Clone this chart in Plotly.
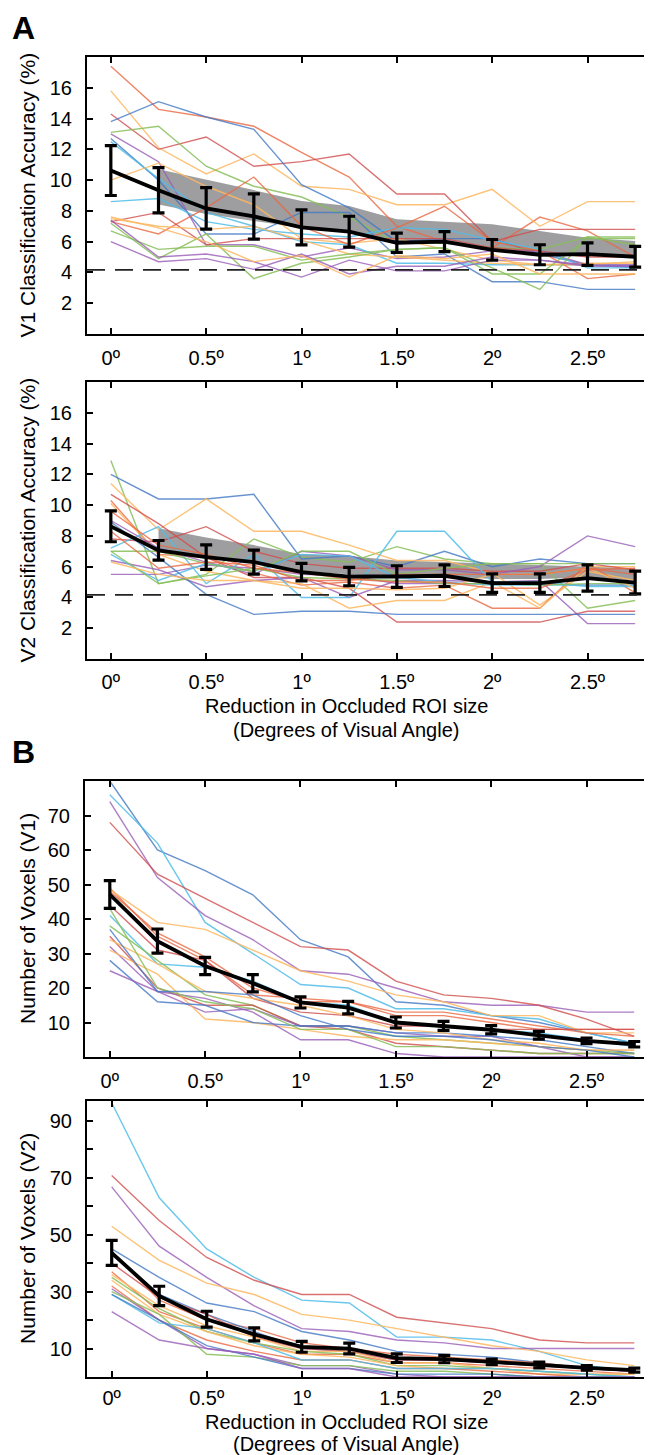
import plotly.graph_objects as go

# ---------------- data ----------------
x_deg = [0, 0.25, 0.5, 0.75, 1.0, 1.25, 1.5, 1.75, 2.0, 2.25, 2.5, 2.75]
x_tick_vals = [0, 0.5, 1, 1.5, 2, 2.5]
x_tick_text = ["0º", "0.5º", "1º", "1.5º", "2º", "2.5º"]
chance_level = 4.17

# Panel A, V1 classification accuracy
v1_acc_subjects = [
    [17.4, 14.6, 14.1, 13.5, 11.8, 10.2, 7.0, 6.0, 5.6, 7.6, 6.7, 5.0],
    [15.8, 12.1, 10.4, 11.7, 9.6, 9.4, 8.4, 8.4, 9.4, 7.0, 8.6, 8.6],
    [14.3, 12.0, 12.8, 10.9, 11.2, 11.7, 9.1, 9.1, 6.0, 6.8, 6.8, 6.8],
    [13.8, 15.1, 14.1, 13.3, 9.7, 8.2, 6.0, 6.2, 6.2, 5.2, 4.5, 4.3],
    [13.1, 13.5, 10.9, 9.6, 8.9, 7.6, 5.9, 5.9, 5.6, 5.5, 6.3, 6.3],
    [13.0, 11.2, 5.8, 5.8, 5.0, 5.6, 4.9, 5.0, 5.4, 5.4, 4.5, 4.5],
    [12.7, 10.0, 6.5, 6.5, 7.9, 7.9, 5.0, 5.2, 3.4, 3.4, 2.9, 2.9],
    [12.5, 10.1, 7.9, 7.0, 6.0, 5.8, 4.6, 4.6, 4.5, 4.5, 4.5, 4.4],
    [10.0, 11.1, 9.6, 8.4, 6.2, 5.9, 6.2, 5.5, 4.8, 4.5, 4.5, 4.7],
    [8.6, 8.8, 7.3, 6.8, 6.5, 6.3, 6.9, 6.8, 6.1, 5.5, 4.3, 4.3],
    [7.3, 6.5, 8.2, 10.2, 7.0, 5.8, 6.9, 8.3, 6.0, 5.4, 3.6, 3.9],
    [7.3, 7.9, 5.8, 6.2, 6.2, 6.2, 6.2, 6.2, 5.6, 5.4, 5.0, 5.0],
    [7.5, 7.0, 6.8, 7.0, 6.1, 5.2, 5.0, 4.8, 4.6, 4.5, 4.6, 4.6],
    [6.7, 5.5, 5.7, 5.7, 4.8, 5.2, 5.5, 5.6, 3.9, 3.9, 6.2, 6.2],
    [7.2, 4.9, 6.5, 3.6, 4.6, 5.0, 5.5, 5.6, 4.3, 2.9, 6.3, 5.8],
    [6.0, 4.7, 4.9, 4.2, 5.2, 3.9, 4.4, 4.4, 5.0, 4.8, 4.5, 4.4],
    [7.4, 5.0, 5.2, 4.7, 3.7, 4.8, 4.1, 4.1, 4.8, 4.8, 4.4, 4.4],
    [7.6, 6.9, 6.0, 4.7, 5.1, 3.7, 5.1, 4.9, 5.2, 3.9, 3.9, 3.9],
]
v1_acc_colors = ["O", "Y", "R", "B", "G", "P", "B", "C", "Y", "C", "O", "R", "Y", "G", "G", "P", "P", "Y"]
v1_acc_mean = [10.62, 9.34, 8.16, 7.64, 6.93, 6.65, 5.93, 6.0, 5.47, 5.15, 5.19, 5.02]
v1_acc_sem = [1.62, 1.47, 1.35, 1.47, 1.14, 1.0, 0.63, 0.65, 0.67, 0.65, 0.73, 0.68]
v1_acc_band_x = [0.25, 0.5, 0.75, 1.0, 1.25, 1.5, 1.75, 2.0, 2.25, 2.5, 2.75]
v1_acc_band_lo = [8.42, 7.8, 7.35, 6.9, 6.6, 5.85, 5.95, 5.4, 5.1, 5.18, 5.0]
v1_acc_band_hi = [10.7, 10.03, 9.35, 8.64, 8.32, 7.45, 7.3, 7.13, 6.69, 6.26, 6.04]

# Panel A, V2 classification accuracy
v2_acc_subjects = [
    [12.9, 4.9, 5.5, 7.8, 6.6, 6.3, 7.3, 6.5, 6.2, 6.2, 3.3, 3.8],
    [12.0, 10.4, 10.4, 10.7, 6.5, 6.7, 6.0, 7.0, 6.0, 6.5, 6.2, 6.2],
    [11.4, 8.4, 10.4, 8.3, 8.3, 7.4, 6.4, 6.4, 5.6, 3.5, 5.7, 5.1],
    [10.7, 8.8, 6.6, 5.3, 5.3, 4.6, 2.4, 2.4, 2.4, 2.4, 3.1, 3.1],
    [10.3, 6.8, 6.6, 5.6, 4.8, 5.0, 4.6, 4.8, 3.3, 3.3, 6.2, 4.3],
    [10.1, 6.8, 5.7, 5.1, 4.9, 3.3, 3.8, 3.8, 5.0, 3.3, 6.0, 6.0],
    [7.8, 7.6, 8.6, 7.0, 6.2, 5.9, 5.9, 5.9, 5.7, 5.7, 6.2, 5.8],
    [9.0, 7.2, 6.3, 5.5, 7.0, 6.7, 5.8, 5.8, 5.5, 6.0, 8.0, 7.3],
    [6.4, 5.8, 4.7, 5.1, 5.3, 4.0, 5.1, 5.1, 5.0, 5.1, 2.3, 2.3],
    [5.5, 5.5, 6.1, 5.9, 5.5, 5.4, 4.9, 4.9, 4.9, 4.9, 4.8, 4.8],
    [7.2, 8.6, 4.9, 6.8, 4.0, 4.0, 8.3, 8.3, 5.0, 5.0, 4.7, 4.7],
    [6.8, 5.1, 6.2, 5.7, 6.8, 6.7, 5.3, 5.0, 4.8, 4.8, 4.8, 4.8],
    [8.9, 6.6, 4.2, 2.9, 3.1, 3.1, 2.9, 2.9, 2.9, 2.9, 2.9, 2.9],
    [7.0, 7.0, 6.2, 5.7, 7.0, 7.0, 5.5, 5.9, 6.2, 6.2, 6.2, 6.2],
    [7.0, 4.9, 5.4, 5.9, 5.3, 5.2, 5.1, 4.9, 4.9, 4.8, 4.9, 4.9],
    [6.3, 5.5, 5.1, 5.1, 4.6, 4.6, 4.5, 4.6, 5.5, 5.5, 5.9, 4.6],
    [8.3, 5.9, 6.3, 6.1, 5.1, 5.1, 5.5, 5.5, 5.5, 5.5, 5.9, 5.5],
    [9.6, 7.4, 6.8, 5.9, 5.6, 5.2, 5.0, 5.0, 4.6, 4.6, 5.8, 5.9],
]
v2_acc_colors = ["G", "B", "Y", "R", "O", "Y", "R", "P", "P", "P", "C", "C", "B", "G", "G", "Y", "O", "O"]
v2_acc_mean = [8.62, 7.06, 6.62, 6.3, 5.65, 5.36, 5.36, 5.41, 4.93, 4.93, 5.26, 4.97]
v2_acc_sem = [1.0, 0.64, 0.8, 0.78, 0.57, 0.6, 0.7, 0.7, 0.6, 0.6, 0.85, 0.74]
v2_acc_band_x = [0.25, 0.5, 0.75, 1.0, 1.25, 1.5, 1.75, 2.0, 2.25, 2.5, 2.75]
v2_acc_band_lo = [7.1, 6.65, 6.3, 5.7, 5.5, 5.4, 5.4, 5.2, 5.2, 5.3, 5.1]
v2_acc_band_hi = [8.5, 7.9, 7.4, 6.8, 6.7, 6.4, 6.3, 6.2, 6.1, 6.0, 5.9]

# Panel B, V1 voxel counts
v1_vox_subjects = [
    [80, 60, 54, 47, 34, 29, 16, 15, 12, 10, 7, 4],
    [76, 62, 39, 30, 21, 20, 14, 14, 12, 11, 7, 4],
    [74, 52, 41, 34, 25, 24, 20, 16, 15, 15, 13, 13],
    [68, 53, 46, 39, 32, 31, 22, 18, 17, 15, 11, 6],
    [49, 35, 28, 18, 17, 16, 12, 12, 10, 8, 8, 8],
    [48.5, 39, 37, 31, 25, 22, 18, 16, 12, 12, 7, 7],
    [48, 36, 29, 20, 16, 16, 13, 13, 11, 9, 7, 6],
    [44, 31, 28, 17, 13, 12, 9, 9, 8, 8, 8, 8],
    [41, 27, 26, 22, 16, 15, 10, 9, 8, 7, 5, 3],
    [38, 28, 18, 15, 9, 9, 6, 5, 4, 3, 2, 1],
    [35, 20, 15, 15, 9, 8, 4, 3, 2, 1, 1, 1],
    [32, 19, 13, 14, 9, 9, 7, 6, 6, 3, 0, 0],
    [31, 24, 11, 10, 8, 6, 5, 5, 4, 3, 2, 2],
    [28, 16, 15, 10, 9, 9, 7, 7, 6, 5, 3, 1],
    [25, 19, 17, 13, 5, 5, 1, 0, 0, 0, 0, 0],
    [34, 27, 19, 17, 15, 12, 8, 7, 5, 4, 2, 2],
    [43, 20, 16, 14, 8, 8, 3, 3, 2, 1, 1, 1],
    [37, 19, 19, 18, 12, 8, 6, 6, 5, 3, 2, 0],
]
v1_vox_colors = ["B", "C", "P", "R", "O", "Y", "O", "R", "C", "G", "R", "P", "Y", "B", "P", "Y", "G", "B"]
v1_vox_mean = [47.1, 33.6, 26.4, 21.4, 15.8, 14.3, 10.0, 9.0, 7.9, 6.3, 4.7, 3.7]
v1_vox_sem = [4.0, 3.5, 2.5, 2.5, 1.6, 1.8, 1.6, 1.3, 1.2, 1.1, 0.8, 0.8]

# Panel B, V2 voxel counts
v2_vox_subjects = [
    [96.4, 63, 45, 35, 27, 26, 14, 14, 13, 9, 4, 2],
    [70.8, 55, 42, 34, 29, 29, 21, 19, 17, 13, 12, 12],
    [66.8, 46, 35, 25, 17, 16, 13, 12, 10, 10, 10, 10],
    [53, 41, 33, 29, 22, 20, 17, 14, 11, 9, 6, 4],
    [45, 35, 26, 23, 16, 13, 9, 8, 7, 5, 3, 2],
    [44, 27, 20, 17, 12, 10, 8, 7, 6, 5, 3, 2],
    [43, 29, 22, 16, 10, 9, 6, 6, 5, 4, 3, 2],
    [40, 28, 22, 14, 10, 9, 6, 6, 5, 4, 3, 2],
    [37, 23, 17, 12, 8, 8, 5, 5, 4, 3, 2, 1],
    [36, 25, 18, 14, 9, 9, 5, 5, 3, 2, 1, 1],
    [35, 24, 16, 12, 9, 8, 4, 4, 3, 2, 1, 0],
    [34, 22, 16, 11, 8, 7, 4, 3, 3, 1, 1, 1],
    [32, 20, 13, 9, 6, 6, 3, 3, 2, 1, 0, 0],
    [31, 20, 10, 8, 4, 4, 1, 0, 0, 0, 0, 0],
    [30, 22, 8, 7, 4, 4, 2, 2, 1, 0, 0, 0],
    [29, 19, 17, 12, 6, 6, 3, 3, 3, 2, 1, 0],
    [29, 20, 11, 7, 3, 3, 1, 1, 1, 0, 0, 0],
    [23, 13, 10, 8, 3, 3, 0, 0, 0, 0, 0, 0],
]
v2_vox_colors = ["C", "R", "P", "Y", "B", "O", "B", "R", "O", "Y", "G", "Y", "O", "P", "G", "C", "B", "P"]
v2_vox_mean = [43.6, 28.5, 20.3, 15.0, 10.6, 10.0, 6.6, 6.3, 5.3, 4.2, 3.2, 2.4]
v2_vox_sem = [4.4, 3.4, 2.8, 2.3, 1.9, 1.9, 1.5, 1.3, 1.0, 1.0, 0.8, 0.7]

# ---------------- styles ----------------
palette = {
    "B": "rgba(66,120,196,0.80)",
    "O": "rgba(234,104,66,0.80)",
    "Y": "rgba(253,183,96,0.85)",
    "G": "rgba(134,190,88,0.85)",
    "P": "rgba(152,92,182,0.80)",
    "C": "rgba(80,188,232,0.85)",
    "R": "rgba(208,78,78,0.80)",
}
FONT = "Liberation Sans, Arial, Helvetica, sans-serif"
TICK_SIZE = 20
TITLE_SIZE = 20
W, H = 652, 1455

def px_x(p):
    return p / W

def px_y(p):
    return 1 - p / H

panels = [
    dict(subj=v1_acc_subjects, cols=v1_acc_colors, mean=v1_acc_mean, sem=v1_acc_sem,
         band=(v1_acc_band_x, v1_acc_band_lo, v1_acc_band_hi), xdom=(79, 651), ydom=(49, 326),
         yrange=[0, 18], yt=[2, 4, 6, 8, 10, 12, 14, 16], ytt=None, xrange=[-0.125, 2.875],
         chance=True, xstand=5),
    dict(subj=v2_acc_subjects, cols=v2_acc_colors, mean=v2_acc_mean, sem=v2_acc_sem,
         band=(v2_acc_band_x, v2_acc_band_lo, v2_acc_band_hi), xdom=(79, 651), ydom=(374, 651),
         yrange=[0, 18], yt=[2, 4, 6, 8, 10, 12, 14, 16], ytt=None, xrange=[-0.125, 2.875],
         chance=True, xstand=4),
    dict(subj=v1_vox_subjects, cols=v1_vox_colors, mean=v1_vox_mean, sem=v1_vox_sem,
         band=None, xdom=(77, 651), ydom=(773, 1049),
         yrange=[0, 80], yt=[10, 20, 30, 40, 50, 60, 70], ytt=None, xrange=[-0.13, 2.88],
         chance=False, xstand=5),
    dict(subj=v2_vox_subjects, cols=v2_vox_colors, mean=v2_vox_mean, sem=v2_vox_sem,
         band=None, xdom=(79, 651), ydom=(1093, 1369),
         yrange=[0, 97], yt=[10, 20, 30, 40, 50, 60, 70, 80, 90],
         ytt=["10", "", "30", "", "50", "", "70", "", "90"], xrange=[-0.13, 2.88],
         chance=False, xstand=2),
]

fig = go.Figure()
layout = dict(
    width=W, height=H, showlegend=False,
    margin=dict(l=0, r=0, t=0, b=0),
    paper_bgcolor="white", plot_bgcolor="white",
    font=dict(family=FONT, size=TICK_SIZE, color="black"),
)
shapes = []

for i, p in enumerate(panels, start=1):
    xa = "x" if i == 1 else f"x{i}"
    ya = "y" if i == 1 else f"y{i}"
    if p["band"] is not None:
        bx, blo, bhi = p["band"]
        fig.add_trace(go.Scatter(x=bx, y=blo, mode="lines", line=dict(width=0, color="rgba(0,0,0,0)"),
                                 xaxis=xa, yaxis=ya, hoverinfo="skip"))
        fig.add_trace(go.Scatter(x=bx, y=bhi, mode="lines", line=dict(width=0, color="rgba(0,0,0,0)"),
                                 fill="tonexty", fillcolor="rgba(150,150,152,0.92)",
                                 xaxis=xa, yaxis=ya, hoverinfo="skip"))
    for ys, c in zip(p["subj"], p["cols"]):
        fig.add_trace(go.Scatter(x=x_deg, y=ys, mode="lines", line=dict(color=palette[c], width=1.4),
                                 xaxis=xa, yaxis=ya, hoverinfo="skip"))
    if p["chance"]:
        shapes.append(dict(type="line", xref=f"{xa} domain", yref=ya, x0=0, x1=1,
                           y0=chance_level, y1=chance_level,
                           line=dict(color="#222", width=1.6, dash="18px,10px"), layer="above"))
    fig.add_trace(go.Scatter(x=x_deg, y=p["mean"], mode="lines",
                             line=dict(color="black", width=3.8),
                             error_y=dict(type="data", array=p["sem"], visible=True,
                                          color="black", thickness=3.2, width=6),
                             xaxis=xa, yaxis=ya, hoverinfo="skip"))

    axkey_x = "xaxis" if i == 1 else f"xaxis{i}"
    axkey_y = "yaxis" if i == 1 else f"yaxis{i}"
    layout[axkey_x] = dict(
        domain=[px_x(p["xdom"][0]), px_x(p["xdom"][1])], anchor=ya,
        range=p["xrange"], tickvals=x_tick_vals, ticktext=x_tick_text,
        ticks="inside", ticklen=6, tickwidth=1.5, tickcolor="black",
        showline=True, linecolor="black", linewidth=2, mirror="ticks",
        showgrid=False, zeroline=False, ticklabelstandoff=p["xstand"],
        tickfont=dict(size=TICK_SIZE, family=FONT),
    )
    ydict = dict(
        domain=[px_y(p["ydom"][1]), px_y(p["ydom"][0])], anchor=xa,
        range=p["yrange"], tickvals=p["yt"],
        ticks="inside", ticklen=6, tickwidth=1.5, tickcolor="black",
        showline=True, linecolor="black", linewidth=2, mirror="ticks",
        showgrid=False, zeroline=False, ticklabelstandoff=9,
        tickfont=dict(size=TICK_SIZE, family=FONT),
    )
    if p["ytt"] is not None:
        ydict["ticktext"] = p["ytt"]
    layout[axkey_y] = ydict

annotations = [
    dict(text="<b>A</b>", x=px_x(2), y=px_y(20), xref="paper", yref="paper",
         xanchor="left", yanchor="middle", showarrow=False, font=dict(size=32, family=FONT)),
    dict(text="<b>B</b>", x=px_x(2), y=px_y(744), xref="paper", yref="paper",
         xanchor="left", yanchor="middle", showarrow=False, font=dict(size=32, family=FONT)),
]
ytitles = ["V1 Classification Accuracy (%)", "V2 Classification Accuracy (%)",
           "Number of Voxels (V1)", "Number of Voxels (V2)"]
for p, t in zip(panels, ytitles):
    annotations.append(dict(text=t, x=px_x(19), y=px_y((p["ydom"][0] + p["ydom"][1]) / 2),
                            xref="paper", yref="paper", textangle=-90, showarrow=False,
                            xanchor="center", yanchor="middle", font=dict(size=21, family=FONT)))
for y1, y2 in [(698, 722), (1414, 1436)]:
    annotations.append(dict(text="Reduction in Occluded ROI size", x=px_x(338), y=px_y(y1),
                            xref="paper", yref="paper", showarrow=False, xanchor="center",
                            yanchor="middle", font=dict(size=TITLE_SIZE, family=FONT)))
    annotations.append(dict(text="(Degrees of Visual Angle)", x=px_x(338), y=px_y(y2),
                            xref="paper", yref="paper", showarrow=False, xanchor="center",
                            yanchor="middle", font=dict(size=TITLE_SIZE, family=FONT)))

layout["annotations"] = annotations
layout["shapes"] = shapes
fig.update_layout(**layout)
fig.write_html("out.html")
